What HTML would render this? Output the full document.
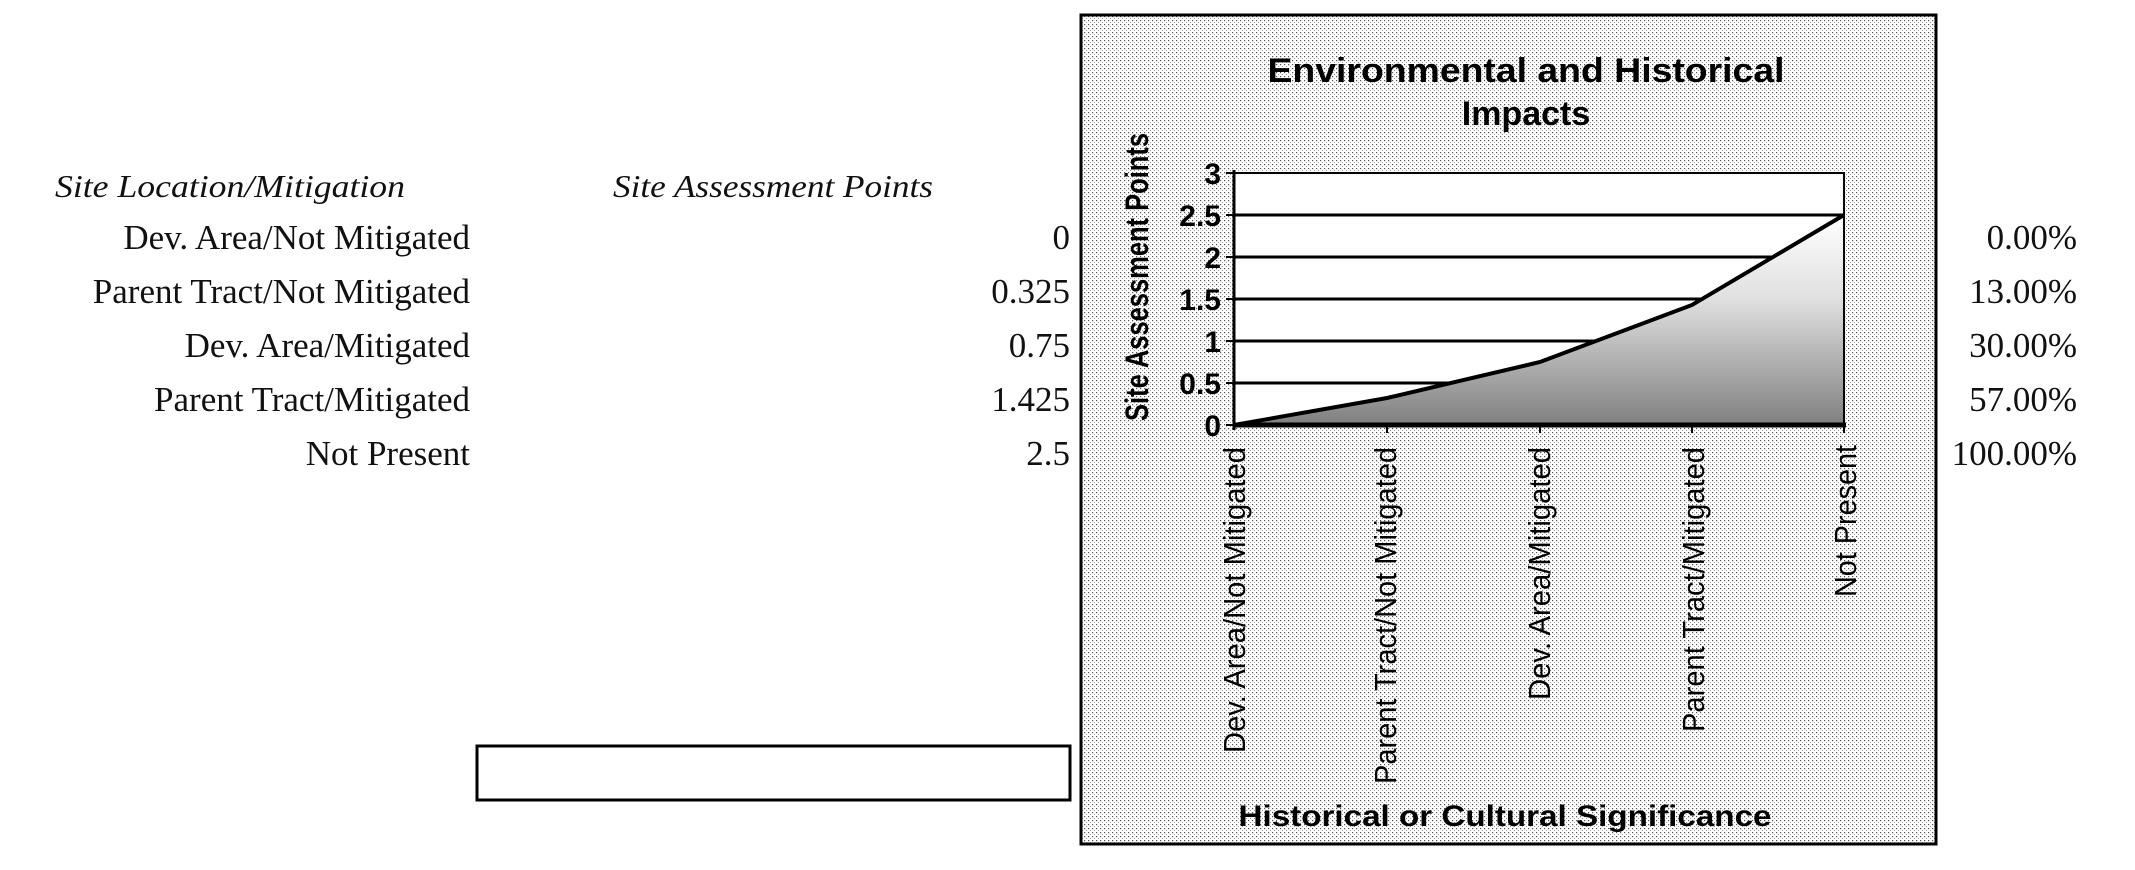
<!DOCTYPE html>
<html><head><meta charset="utf-8"><style>
html,body{margin:0;padding:0;background:#fff;width:2135px;height:870px;overflow:hidden}
</style></head><body>
<svg width="2135" height="870" xmlns="http://www.w3.org/2000/svg">
<defs>
<pattern id="dots" width="4" height="4" patternUnits="userSpaceOnUse">
<rect width="4" height="4" fill="#fff"/>
<rect x="0" y="0" width="1.2" height="1.2" fill="#555"/>
<rect x="2" y="2" width="1" height="1" fill="#999"/>
</pattern>
<linearGradient id="g" x1="0" y1="0" x2="0" y2="1" gradientUnits="objectBoundingBox">
<stop offset="0" stop-color="#ffffff"/>
<stop offset="0.4" stop-color="#e0e0e0"/>
<stop offset="1" stop-color="#808080"/>
</linearGradient>
</defs>
<g font-family="Liberation Serif, serif" fill="#111">
<text x="55" y="197" font-size="32" font-style="italic" textLength="350" lengthAdjust="spacingAndGlyphs">Site Location/Mitigation</text>
<text x="613" y="197" font-size="32" font-style="italic" textLength="320" lengthAdjust="spacingAndGlyphs">Site Assessment Points</text>
<g font-size="35" text-anchor="end">
<text x="470" y="249">Dev. Area/Not Mitigated</text>
<text x="470" y="303">Parent Tract/Not Mitigated</text>
<text x="470" y="357">Dev. Area/Mitigated</text>
<text x="470" y="411">Parent Tract/Mitigated</text>
<text x="470" y="465">Not Present</text>
<text x="1070" y="249">0</text>
<text x="1070" y="303">0.325</text>
<text x="1070" y="357">0.75</text>
<text x="1070" y="411">1.425</text>
<text x="1070" y="465">2.5</text>
<text x="2077" y="249">0.00%</text>
<text x="2077" y="303">13.00%</text>
<text x="2077" y="357">30.00%</text>
<text x="2077" y="411">57.00%</text>
<text x="2077" y="465">100.00%</text>
</g>
</g>
<rect x="477" y="746" width="593" height="54" fill="#fff" stroke="#000" stroke-width="3"/>
<rect x="1081" y="15" width="855" height="829" fill="url(#dots)" stroke="#000" stroke-width="3"/>
<rect x="1234" y="173" width="610" height="252" fill="#fff"/>
<g stroke="#000" stroke-width="3">
<line x1="1234" y1="215" x2="1844" y2="215"/>
<line x1="1234" y1="257" x2="1844" y2="257"/>
<line x1="1234" y1="299" x2="1844" y2="299"/>
<line x1="1234" y1="341" x2="1844" y2="341"/>
<line x1="1234" y1="383" x2="1844" y2="383"/>
</g>
<polygon points="1234,425 1387,398 1540,362 1692,305 1844,215 1844,425" fill="url(#g)"/>
<polyline points="1234,425 1387,398 1540,362 1692,305 1844,215" fill="none" stroke="#000" stroke-width="4"/>
<rect x="1234" y="173" width="610" height="252" fill="none" stroke="#000" stroke-width="2"/>
<line x1="1234" y1="425" x2="1846" y2="425" stroke="#000" stroke-width="5"/>
<line x1="1234" y1="170" x2="1234" y2="430" stroke="#000" stroke-width="3"/>
<g stroke="#000" stroke-width="2">
<line x1="1226" y1="173" x2="1234" y2="173"/><line x1="1226" y1="215" x2="1234" y2="215"/>
<line x1="1226" y1="257" x2="1234" y2="257"/><line x1="1226" y1="299" x2="1234" y2="299"/>
<line x1="1226" y1="341" x2="1234" y2="341"/><line x1="1226" y1="383" x2="1234" y2="383"/>
<line x1="1226" y1="425" x2="1234" y2="425"/>
<line x1="1387" y1="425" x2="1387" y2="433"/><line x1="1540" y1="425" x2="1540" y2="433"/>
<line x1="1692" y1="425" x2="1692" y2="433"/><line x1="1844" y1="425" x2="1844" y2="433"/>
</g>
<g font-family="Liberation Sans, Arial, sans-serif" fill="#000">
<text x="1526" y="82" font-size="34" font-weight="bold" text-anchor="middle" textLength="517" lengthAdjust="spacingAndGlyphs">Environmental and Historical</text>
<text x="1526" y="125" font-size="34" font-weight="bold" text-anchor="middle">Impacts</text>
<g font-size="30" font-weight="bold" text-anchor="end">
<text x="1221" y="184">3</text><text x="1221" y="226">2.5</text><text x="1221" y="268">2</text>
<text x="1221" y="310">1.5</text><text x="1221" y="352">1</text><text x="1221" y="394">0.5</text>
<text x="1221" y="436">0</text>
</g>
<text transform="translate(1148,277) rotate(-90)" font-size="32" font-weight="bold" text-anchor="middle" textLength="288" lengthAdjust="spacingAndGlyphs">Site Assessment Points</text>
<g font-size="31" text-anchor="end">
<text transform="translate(1245,447) rotate(-90)" textLength="306" lengthAdjust="spacingAndGlyphs">Dev. Area/Not Mitigated</text>
<text transform="translate(1396,447) rotate(-90)" textLength="337" lengthAdjust="spacingAndGlyphs">Parent Tract/Not Mitigated</text>
<text transform="translate(1550,447) rotate(-90)" textLength="253" lengthAdjust="spacingAndGlyphs">Dev. Area/Mitigated</text>
<text transform="translate(1704,447) rotate(-90)" textLength="285" lengthAdjust="spacingAndGlyphs">Parent Tract/Mitigated</text>
<text transform="translate(1856,445) rotate(-90)" textLength="152" lengthAdjust="spacingAndGlyphs">Not Present</text>
</g>
<text x="1505" y="826" font-size="30" font-weight="bold" text-anchor="middle" textLength="533" lengthAdjust="spacingAndGlyphs">Historical or Cultural Significance</text>
</g>
</svg>
</body></html>
